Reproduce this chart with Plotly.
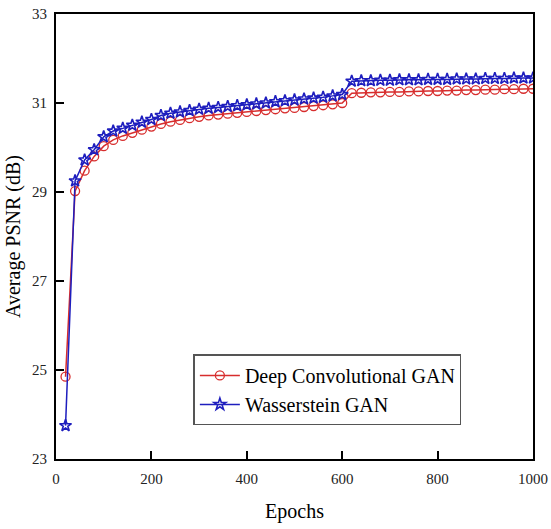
import plotly.graph_objects as go

# Training epochs at which PSNR was evaluated
epochs = list(range(20, 1001, 20))

# Average PSNR (dB) per epoch
dcgan_psnr = [
    24.85, 29.02, 29.48, 29.80, 30.03, 30.17, 30.26, 30.33, 30.40, 30.47,
    30.53, 30.58, 30.62, 30.66, 30.69, 30.72, 30.74, 30.76, 30.78, 30.80,
    30.82, 30.84, 30.86, 30.88, 30.89, 30.91, 30.93, 30.95, 30.97, 31.00,
    31.22, 31.23, 31.24, 31.24, 31.25, 31.25, 31.26, 31.26, 31.27, 31.27,
    31.28, 31.28, 31.29, 31.29, 31.30, 31.30, 31.31, 31.31, 31.32, 31.32,
]
wgan_psnr = [
    23.75, 29.25, 29.72, 29.95, 30.24, 30.37, 30.43, 30.50, 30.57, 30.63,
    30.72, 30.77, 30.80, 30.83, 30.86, 30.88, 30.90, 30.92, 30.94, 30.96,
    30.98, 31.00, 31.03, 31.05, 31.07, 31.09, 31.11, 31.13, 31.16, 31.19,
    31.49, 31.50, 31.50, 31.51, 31.51, 31.52, 31.52, 31.52, 31.53, 31.53,
    31.53, 31.54, 31.54, 31.54, 31.55, 31.55, 31.55, 31.56, 31.56, 31.56,
]

x_ticks = [0, 200, 400, 600, 800, 1000]
y_ticks = [23, 25, 27, 29, 31, 33]

serif = "Liberation Serif"
red = "rgb(215,45,45)"
blue = "rgb(30,30,190)"

fig = go.Figure()
fig.add_trace(go.Scatter(
    x=epochs, y=dcgan_psnr, mode="lines+markers", name="Deep Convolutional GAN",
    line=dict(color=red, width=1.5),
    marker=dict(symbol="circle-open", size=9, color=red, line=dict(width=1.3)),
))
fig.add_trace(go.Scatter(
    x=epochs, y=wgan_psnr, mode="lines+markers", name="Wasserstein GAN",
    line=dict(color=blue, width=1.5),
    marker=dict(symbol="star-open", size=9, color=blue, line=dict(width=1.6)),
))

axis_common = dict(
    showgrid=False, zeroline=False, showline=True, linecolor="black",
    linewidth=2, mirror=True, ticks="inside", ticklen=8, tickwidth=1.5,
    tickcolor="black", tickfont=dict(family=serif, size=15, color="#222"),
    automargin=False,
)

fig.update_layout(
    template="none",
    width=551, height=529,
    margin=dict(l=56, r=18, t=14, b=70),
    paper_bgcolor="white", plot_bgcolor="white",
    font=dict(family=serif, color="black"),
    showlegend=True,
    xaxis=dict(
        range=[0, 1000], tickvals=x_ticks, ticklabelstandoff=5,
        title=dict(text="Epochs", font=dict(family=serif, size=20), standoff=18),
        **axis_common,
    ),
    yaxis=dict(
        range=[23, 33], tickvals=y_ticks, ticklabelstandoff=4,
        title=dict(text="Average PSNR (dB)", font=dict(family=serif, size=20), standoff=6),
        **axis_common,
    ),
    legend=dict(
        x=0.288, y=0.235, xanchor="left", yanchor="top",
        bgcolor="white", bordercolor="#555", borderwidth=1.5,
        font=dict(family=serif, size=20, color="black"),
        tracegroupgap=0, itemwidth=40,
    ),
)

fig.write_html("out.html")
